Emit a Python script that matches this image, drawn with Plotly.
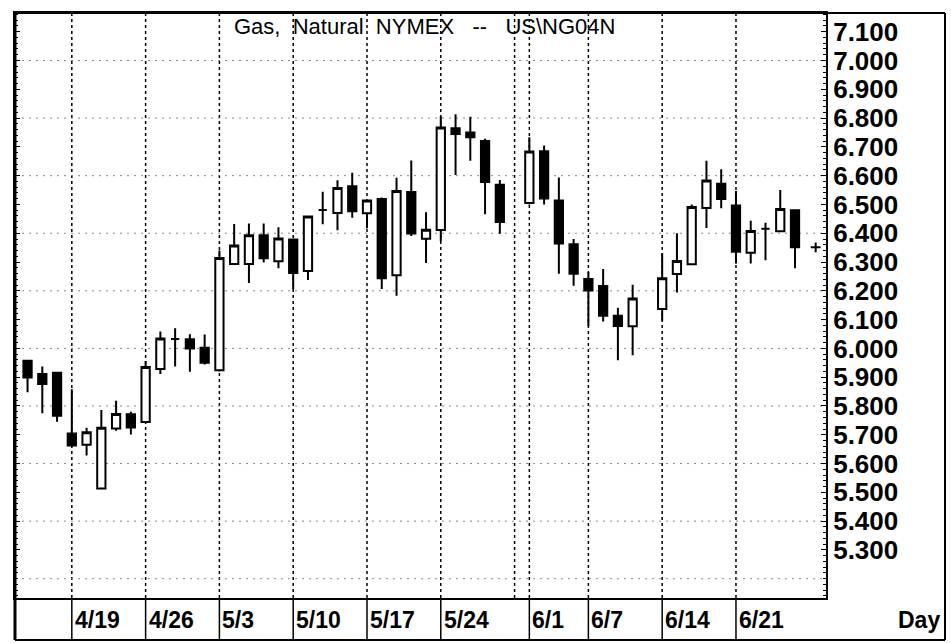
import numpy as np
import plotly.graph_objects as go

# ---------------- data ----------------
dates = ["2004-04-14", "2004-04-15", "2004-04-16",
         "2004-04-19", "2004-04-20", "2004-04-21", "2004-04-22", "2004-04-23",
         "2004-04-26", "2004-04-27", "2004-04-28", "2004-04-29", "2004-04-30",
         "2004-05-03", "2004-05-04", "2004-05-05", "2004-05-06", "2004-05-07",
         "2004-05-10", "2004-05-11", "2004-05-12", "2004-05-13", "2004-05-14",
         "2004-05-17", "2004-05-18", "2004-05-19", "2004-05-20", "2004-05-21",
         "2004-05-24", "2004-05-25", "2004-05-26", "2004-05-27", "2004-05-28",
         "2004-06-01", "2004-06-02", "2004-06-03", "2004-06-04",
         "2004-06-07", "2004-06-08", "2004-06-09", "2004-06-10",
         "2004-06-14", "2004-06-15", "2004-06-16", "2004-06-17", "2004-06-18",
         "2004-06-21", "2004-06-22", "2004-06-23", "2004-06-24", "2004-06-25"]

opens = [5.957, 5.911, 5.915,
         5.704, 5.665, 5.513, 5.722, 5.771,
         5.744, 5.928, 6.033, 6.032, 6.002,
         5.924, 6.293, 6.293, 6.393, 6.303,
         6.378, 6.269, 6.481, 6.470, 6.563,
         6.469, 6.519, 6.254, 6.543, 6.381,
         6.411, 6.765, 6.750, 6.720, 6.568,
         6.505, 6.685, 6.514, 6.362,
         6.241, 6.217, 6.113, 6.077,
         6.137, 6.258, 6.292, 6.488, 6.572,
         6.496, 6.332, 6.416, 6.407, 6.480]

highs = [5.960, 5.937, 5.917,
         5.858, 5.724, 5.786, 5.818, 5.780,
         5.956, 6.059, 6.070, 6.049, 6.048,
         6.340, 6.432, 6.434, 6.434, 6.421,
         6.380, 6.460, 6.544, 6.584, 6.610,
         6.516, 6.524, 6.593, 6.653, 6.473,
         6.806, 6.813, 6.805, 6.728, 6.585,
         6.733, 6.705, 6.594, 6.380,
         6.265, 6.276, 6.141, 6.221,
         6.330, 6.400, 6.500, 6.652, 6.622,
         6.547, 6.443, 6.436, 6.550, 6.480]

lows = [5.848, 5.775, 5.745,
        5.658, 5.628, 5.510, 5.714, 5.701,
        5.742, 5.911, 5.937, 5.919, 5.944,
        5.920, 6.290, 6.227, 6.298, 6.278,
        6.206, 6.238, 6.431, 6.410, 6.454,
        6.417, 6.206, 6.183, 6.390, 6.297,
        6.372, 6.602, 6.652, 6.466, 6.398,
        6.500, 6.500, 6.259, 6.218,
        6.078, 6.093, 5.959, 5.976,
        6.096, 6.194, 6.290, 6.418, 6.487,
        6.295, 6.295, 6.306, 6.405, 6.278]

closes = [5.899, 5.876, 5.766,
          5.663, 5.709, 5.724, 5.772, 5.725,
          5.935, 6.034, 6.033, 6.000, 5.950,
          6.314, 6.357, 6.393, 6.313, 6.382,
          6.262, 6.458, 6.481, 6.557, 6.476,
          6.514, 6.244, 6.547, 6.399, 6.412,
          6.767, 6.745, 6.733, 6.578, 6.439,
          6.684, 6.521, 6.364, 6.259,
          6.201, 6.113, 6.078, 6.173,
          6.244, 6.304, 6.491, 6.583, 6.519,
          6.336, 6.408, 6.416, 6.484, 6.351]

last_price = 6.351

label_dates = ["2004-04-19", "2004-04-26", "2004-05-03", "2004-05-10", "2004-05-17",
               "2004-05-24", "2004-06-01", "2004-06-07", "2004-06-14", "2004-06-21"]
label_texts = ["4/19", "4/26", "5/3", "5/10", "5/17", "5/24", "6/1", "6/7", "6/14", "6/21"]
grid_dates = ["2004-04-19", "2004-04-26", "2004-05-03", "2004-05-10", "2004-05-17",
              "2004-05-24", "2004-05-31", "2004-06-01", "2004-06-07", "2004-06-14",
              "2004-06-21"]

y_ticks = [round(5.3 + 0.1 * k, 1) for k in range(19)]
y_grid = [round(5.2 + 0.2 * k, 1) for k in range(10)]

title_text = "Gas,\u00a0 Natural\u00a0 NYMEX\u00a0 \u00a0--\u00a0 \u00a0US\\NG04N"

# ---------------- positions (weekday slots) ----------------
start = dates[0]
xs = np.busday_count(start, dates)
lab_x = np.busday_count(start, label_dates)
grid_x = np.busday_count(start, grid_dates)

FONT = "Liberation Sans, Arial, sans-serif"

W, H = 951, 643
ML, MR, MT, MB = 15, 125, 13, 45
plot_h = H - MT - MB
plot_w = W - ML - MR

fig = go.Figure()
fig.add_trace(go.Candlestick(
    x=xs, open=opens, high=highs, low=lows, close=closes,
    increasing=dict(line=dict(color="black", width=2), fillcolor="white"),
    decreasing=dict(line=dict(color="black", width=2), fillcolor="black"),
    whiskerwidth=0, showlegend=False, hoverinfo="skip",
))
fig.add_trace(go.Scatter(
    x=[xs[-1] + 1.4], y=[last_price], mode="markers",
    marker=dict(symbol="cross-thin", size=7, line=dict(color="black", width=2)),
    showlegend=False, hoverinfo="skip",
))

shapes = []
for gx in grid_x:
    shapes.append(dict(type="line", xref="x", yref="paper", x0=gx, x1=gx, y0=0, y1=1,
                       line=dict(color="black", width=1.5, dash="dot"), layer="below"))
for gy in y_grid:
    shapes.append(dict(type="line", xref="paper", yref="y", x0=0, x1=1, y0=gy, y1=gy,
                       line=dict(color="#888", width=1, dash="2px,5px"), layer="below"))

strip_bottom = -42.0 / plot_h
for lx in lab_x:
    shapes.append(dict(type="line", xref="x", yref="paper", x0=lx, x1=lx, y0=0, y1=strip_bottom,
                       line=dict(color="black", width=1.5)))
right_frame = (945 - ML) / plot_w
shapes += [
    dict(type="line", xref="paper", yref="paper", x0=0, x1=0, y0=strip_bottom, y1=1,
         line=dict(color="black", width=3)),
    dict(type="line", xref="paper", yref="paper", x0=0, x1=right_frame, y0=1, y1=1,
         line=dict(color="black", width=2)),
    dict(type="line", xref="paper", yref="paper", x0=right_frame, x1=right_frame,
         y0=strip_bottom, y1=1, line=dict(color="black", width=2)),
    dict(type="line", xref="paper", yref="paper", x0=0, x1=right_frame,
         y0=strip_bottom, y1=strip_bottom, line=dict(color="black", width=2)),
]

annotations = [dict(text=title_text, xref="paper", yref="paper", x=0.505, y=1, yshift=1,
                    xanchor="center", yanchor="top", showarrow=False,
                    font=dict(family=FONT, size=22, color="black"))]
for lx, lt in zip(lab_x, label_texts):
    annotations.append(dict(text=lt, xref="x", yref="paper", x=lx, y=-22.0 / plot_h,
                            xanchor="left", yanchor="middle", xshift=1, showarrow=False,
                            font=dict(family=FONT, size=23, color="black", weight="bold")))
annotations.append(dict(text="Day", xref="paper", yref="paper", x=(942 - ML) / plot_w,
                        y=-22.0 / plot_h, xanchor="right", yanchor="middle", showarrow=False,
                        font=dict(family=FONT, size=23, color="black", weight="bold")))

fig.update_layout(
    width=W, height=H,
    margin=dict(l=ML, r=MR, t=MT, b=MB),
    paper_bgcolor="white", plot_bgcolor="white",
    boxgap=0.2,
    shapes=shapes, annotations=annotations,
    xaxis=dict(range=[-0.85, 54.1], showticklabels=False, ticks="", showgrid=False,
               zeroline=False, showline=True, linecolor="black", linewidth=2, mirror=True,
               rangeslider=dict(visible=False), fixedrange=True),
    yaxis=dict(range=[5.133, 7.165], side="right", tickvals=y_ticks,
               ticktext=["%.3f" % v for v in y_ticks], showgrid=False, zeroline=False,
               ticks="inside", ticklen=5, tickcolor="black", tickwidth=1,
               showline=True, linecolor="black", linewidth=2, mirror="ticks",
               minor=dict(dtick=0.02, tick0=0, ticks="inside", ticklen=3,
                          tickcolor="black", tickwidth=1),
               tickfont=dict(family=FONT, size=26, color="black", weight="bold"),
               ticklabelstandoff=0,
               fixedrange=True),
)

fig.write_html("out.html", config={"displayModeBar": False},
               post_script="document.body.style.margin='0px';document.body.style.overflow='hidden';")
